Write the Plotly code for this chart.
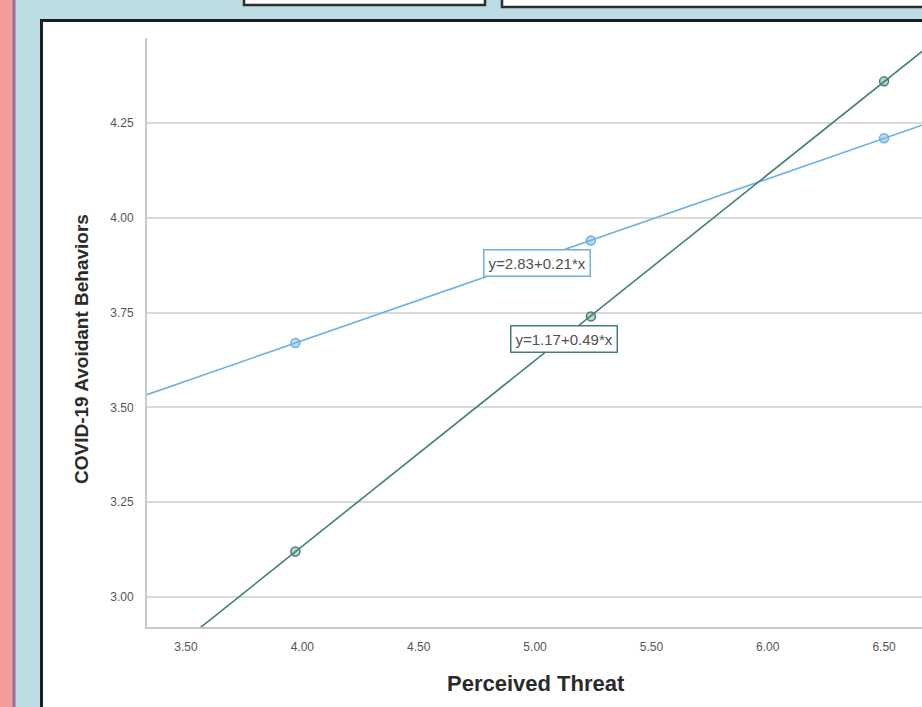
import numpy as np
import plotly.graph_objects as go

# ---- data ----
threat_points = [3.97, 5.24, 6.50]
group_a_values = [3.67, 3.94, 4.21]   # light blue series
group_b_values = [3.12, 3.74, 4.36]   # dark teal series
fit_a_label = "y=2.83+0.21*x"
fit_b_label = "y=1.17+0.49*x"
x_ticks = [3.5, 4.0, 4.5, 5.0, 5.5, 6.0, 6.5]
y_ticks = [3.0, 3.25, 3.5, 3.75, 4.0, 4.25]
x_title = "Perceived Threat"
y_title = "COVID-19 Avoidant Behaviors"

W, H = 922, 707
X_RANGE = [3.3324, 6.663]
Y_RANGE = [2.9208, 4.4743]

BLUE = "#6EB0E4"
TEAL = "#43807A"
FONT = "Liberation Sans, Arial, sans-serif"

def px(x):
    return x / W

def py(y):
    return 1 - y / H

fig = go.Figure()

# least-squares fit lines through each series, spanning the axis range
for vals, col in [(group_a_values, BLUE), (group_b_values, TEAL)]:
    slope, intercept = np.polyfit(threat_points, vals, 1)
    xs = X_RANGE
    ys = [intercept + slope * v for v in xs]
    fig.add_trace(go.Scatter(x=xs, y=ys, mode="lines",
                             line=dict(color=col, width=1.6),
                             hoverinfo="skip", showlegend=False))

for vals, col, fill in [(group_a_values, BLUE, "rgba(110,176,228,0.45)"),
                        (group_b_values, TEAL, "rgba(67,128,122,0.35)")]:
    fig.add_trace(go.Scatter(x=threat_points, y=vals, mode="markers",
                             marker=dict(size=9, color=fill,
                                         line=dict(color=col, width=1.5)),
                             showlegend=False))

shapes = [
    # pink strip and purple edge
    dict(type="rect", xref="paper", yref="paper", x0=0, x1=px(13), y0=0, y1=1,
         fillcolor="#F29C9E", line=dict(width=0), layer="below"),
    dict(type="rect", xref="paper", yref="paper", x0=px(12.5), x1=px(15.5), y0=0, y1=1,
         fillcolor="#9A6E9C", line=dict(width=0), layer="below"),
    # top boxes
    dict(type="rect", xref="paper", yref="paper", x0=px(244), x1=px(485), y0=py(5), y1=py(-5),
         fillcolor="white", line=dict(color="#2E2E2E", width=2.5), layer="below"),
    dict(type="rect", xref="paper", yref="paper", x0=px(502), x1=px(930), y0=py(7), y1=py(-5),
         fillcolor="white", line=dict(color="#2E2E2E", width=2.5), layer="below"),
    # main white panel
    dict(type="rect", xref="paper", yref="paper", x0=px(41.5), x1=px(935), y0=py(720), y1=py(20.5),
         fillcolor="white", line=dict(color="#1E1E1E", width=3), layer="below"),
]

annotations = [
    dict(text=fit_a_label, x=5.01, y=3.881, xref="x", yref="y", showarrow=False,
         font=dict(family=FONT, size=15, color="#505050"), bgcolor="white",
         bordercolor=BLUE, borderwidth=1.5, borderpad=4),
    dict(text=fit_b_label, x=5.124, y=3.681, xref="x", yref="y", showarrow=False,
         font=dict(family=FONT, size=15, color="#505050"), bgcolor="white",
         bordercolor=TEAL, borderwidth=1.5, borderpad=4),
    dict(text="<b>" + x_title + "</b>", x=px(536), y=py(683), xref="paper", yref="paper",
         showarrow=False, font=dict(family=FONT, size=22, color="#2A2A2A"),
         xanchor="center", yanchor="middle"),
    dict(text="<b>" + y_title + "</b>", x=px(81), y=py(349), xref="paper", yref="paper",
         showarrow=False, textangle=-90, font=dict(family=FONT, size=19, color="#2A2A2A"),
         xanchor="center", yanchor="middle"),
]

fig.update_layout(
    width=W, height=H,
    margin=dict(l=0, r=0, t=0, b=0),
    paper_bgcolor="#BCDDE3",
    plot_bgcolor="white",
    shapes=shapes,
    annotations=annotations,
    showlegend=False,
    xaxis=dict(domain=[px(147), 1], range=X_RANGE, tickvals=x_ticks,
               ticktext=[f"{v:.2f}" for v in x_ticks], showgrid=False, zeroline=False,
               showline=True, linecolor="#C8C8C8", linewidth=2, ticks="",
               ticklabelstandoff=8,
               tickfont=dict(family=FONT, size=12, color="#555555")),
    yaxis=dict(domain=[py(627), py(38)], range=Y_RANGE, tickvals=y_ticks,
               ticktext=[f"{v:.2f}" for v in y_ticks], showgrid=True,
               gridcolor="#D9D9D9", gridwidth=1.5, zeroline=False,
               showline=True, linecolor="#C8C8C8", linewidth=2, ticks="",
               ticklabelstandoff=9,
               tickfont=dict(family=FONT, size=12, color="#555555")),
)

fig.write_html("out.html", config={"displayModeBar": False},
               post_script="document.body.style.margin='0';document.body.style.overflow='hidden';")
